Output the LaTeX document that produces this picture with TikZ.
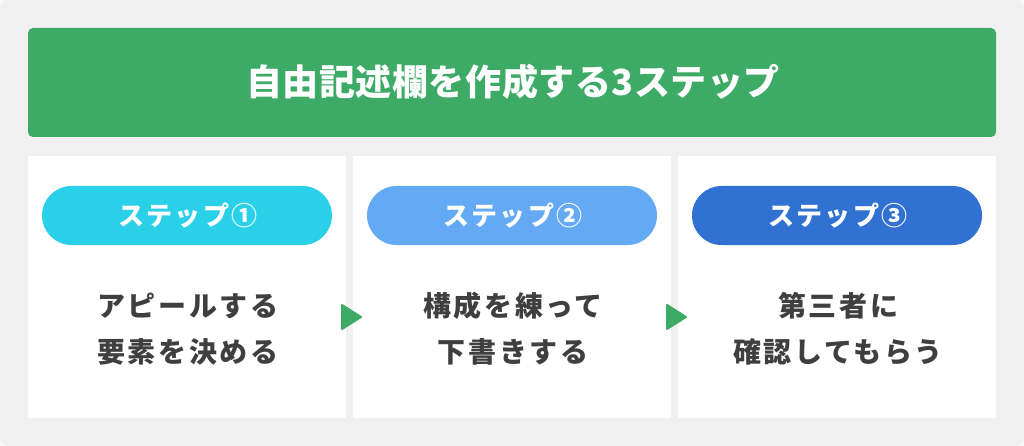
\documentclass[tikz,border=0pt]{standalone}
\usepackage{fontspec}
\setmainfont{Noto Sans CJK JP}
\newfontfamily\jpbody[LetterSpace=9.5]{Noto Sans CJK JP}
\newfontfamily\jppill[LetterSpace=8]{Noto Sans CJK JP}
\newfontfamily\jptitle[LetterSpace=1.5]{Noto Sans CJK JP}
\usetikzlibrary{calc}
\definecolor{bgout}{HTML}{F7F7F7}
\definecolor{bggray}{HTML}{F0F0F0}
\definecolor{hgreen}{HTML}{3DAA66}
\definecolor{pillA}{HTML}{29D0E8}
\definecolor{pillB}{HTML}{64A9F3}
\definecolor{pillC}{HTML}{3071D1}
\definecolor{txt}{HTML}{3F3F3F}
\tikzset{
  card/.style={fill=white, draw=none},
  pill/.style={rounded corners=29.5pt, draw=none},
  pilltext/.style={text=white, font=\jppill\fontsize{26}{30}\selectfont\bfseries, inner sep=0pt},
  bodytext/.style={text=txt, font=\jpbody\fontsize{28}{46}\selectfont\bfseries, align=center, inner sep=0pt},
  arrowtri/.style={fill=hgreen, draw=hgreen, line width=2pt, line join=round}
}
\begin{document}
\begin{tikzpicture}[x=1pt,y=-1pt]
\useasboundingbox (0,0) rectangle (1024,446);
\fill[bgout] (0,0) rectangle (1024,446);
\fill[bggray, rounded corners=10pt] (0,0) rectangle (1024,446);
% header
\fill[hgreen, rounded corners=5pt] (28,28) rectangle (996,137);
\node[text=white, font=\jptitle\fontsize{36}{40}\selectfont\bfseries, inner sep=0pt] (title) at (513,82) {自由記述欄を作成する3ステップ};
% cards
\fill[card] (28,156) rectangle (346,418);
\fill[card] (353,156) rectangle (671,418);
\fill[card] (678,156) rectangle (996,418);
% pills
\fill[pill, pillA] (42,186) rectangle (332,245);
\fill[pill, pillB] (367,186) rectangle (657,245);
\fill[pill, pillC] (692,186) rectangle (982,245);
\node[pilltext] (p1) at (188,215.5) {ステップ①};
\node[pilltext] (p2) at (513,215.5) {ステップ②};
\node[pilltext] (p3) at (838,215.5) {ステップ③};
% body texts
\node[bodytext] (b1) at (188,329) {アピールする\\要素を決める};
\node[bodytext] (b2) at (513,329) {構成を練って\\下書きする};
\node[bodytext] (b3) at (838,329) {第三者に\\確認してもらう};
% arrows
\coordinate (a1) at (349.5,317);
\coordinate (a2) at (674.5,317);
\filldraw[arrowtri] ($(a1)+(-7.5,-12)$) -- ($(a1)+(11.5,0)$) -- ($(a1)+(-7.5,12)$) -- cycle;
\filldraw[arrowtri] ($(a2)+(-7.5,-12)$) -- ($(a2)+(11.5,0)$) -- ($(a2)+(-7.5,12)$) -- cycle;
\end{tikzpicture}
\end{document}
